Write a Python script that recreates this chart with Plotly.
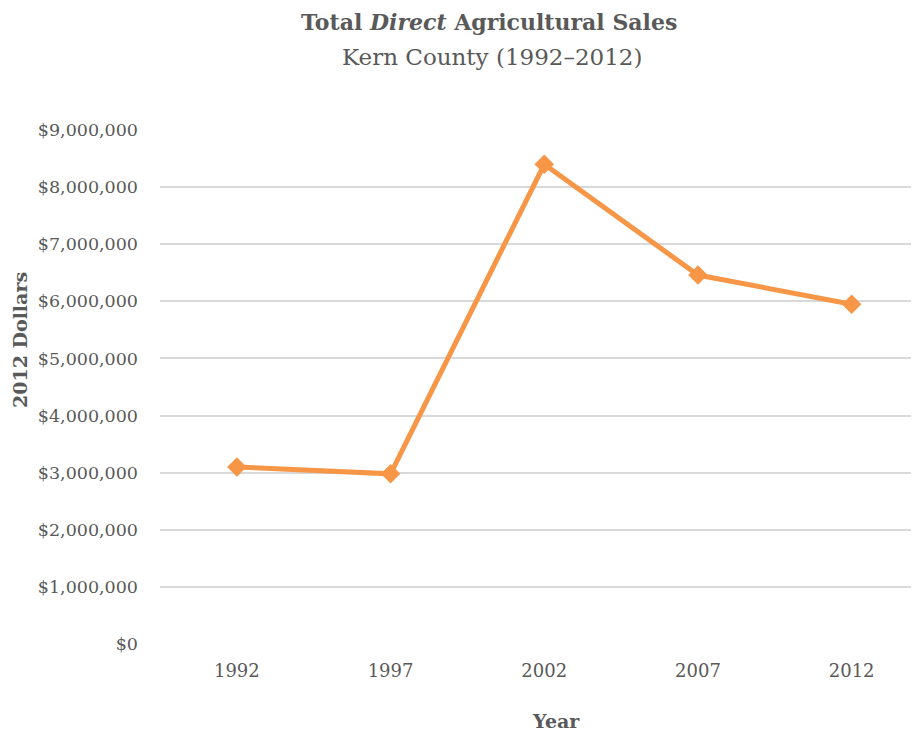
import plotly.graph_objects as go

years = ["1992", "1997", "2002", "2007", "2012"]
sales = [3100000, 2980000, 8400000, 6460000, 5950000]
y_ticks = [0, 1000000, 2000000, 3000000, 4000000, 5000000, 6000000, 7000000, 8000000, 9000000]
y_tick_labels = ["$0", "$1,000,000", "$2,000,000", "$3,000,000", "$4,000,000",
                 "$5,000,000", "$6,000,000", "$7,000,000", "$8,000,000", "$9,000,000"]

FONT = "DejaVu Serif"
GRAY = "#595959"
ORANGE = "#F79646"

# page body has an 8px margin; compensate so the figure sits where the reference does
OFF = 8
W, H = 919 - OFF, 732 - OFF
L, R, T, B = 160 - OFF, 0, 130 - OFF, H - (644 - OFF)
PW, PH = W - L - R, H - T - B


def px(xr):
    return ((xr - OFF) - L) / PW


def py(yr):
    return ((H - B) - (yr - OFF)) / PH


x_end = PW / 153.7 - 0.5

fig = go.Figure()
fig.add_trace(go.Scatter(
    x=list(range(len(years))), y=sales, mode="lines+markers",
    line=dict(color=ORANGE, width=5),
    marker=dict(symbol="diamond", size=15, color=ORANGE),
    hoverinfo="skip", showlegend=False,
))

fig.update_layout(
    width=W, height=H,
    margin=dict(l=L, r=R, t=T, b=B, autoexpand=False),
    plot_bgcolor="white", paper_bgcolor="white",
    font=dict(family=FONT, color=GRAY, size=17),
    xaxis=dict(
        tickmode="array", tickvals=list(range(len(years))), ticktext=years,
        range=[-0.5, x_end], showgrid=False, zeroline=False, showline=False,
        ticks="", tickfont=dict(size=18, color=GRAY), ticklabelstandoff=14,
    ),
    yaxis=dict(
        tickmode="array", tickvals=y_ticks, ticktext=y_tick_labels,
        range=[0, 9000000], showgrid=True, gridcolor="#D9D9D9", gridwidth=1.5,
        zeroline=False, showline=False, ticks="", tickfont=dict(size=17.5, color=GRAY),
        ticklabelstandoff=21,
    ),
    annotations=[
        dict(text="<b>Total <i>Direct</i> Agricultural Sales</b>", x=px(489), y=py(22),
             xref="paper", yref="paper", showarrow=False, xanchor="center", yanchor="middle",
             font=dict(size=22, color=GRAY)),
        dict(text="Kern County (1992–2012)", x=px(492), y=py(57),
             xref="paper", yref="paper", showarrow=False, xanchor="center", yanchor="middle",
             font=dict(size=23, color=GRAY)),
        dict(text="<b>2012 Dollars</b>", x=px(20), y=py(340),
             xref="paper", yref="paper", showarrow=False, textangle=-90,
             xanchor="center", yanchor="middle", font=dict(size=19, color=GRAY)),
        dict(text="<b>Year</b>", x=px(556), y=py(721),
             xref="paper", yref="paper", showarrow=False,
             xanchor="center", yanchor="middle", font=dict(size=19, color=GRAY)),
    ],
)

fig.write_html("out.html")
